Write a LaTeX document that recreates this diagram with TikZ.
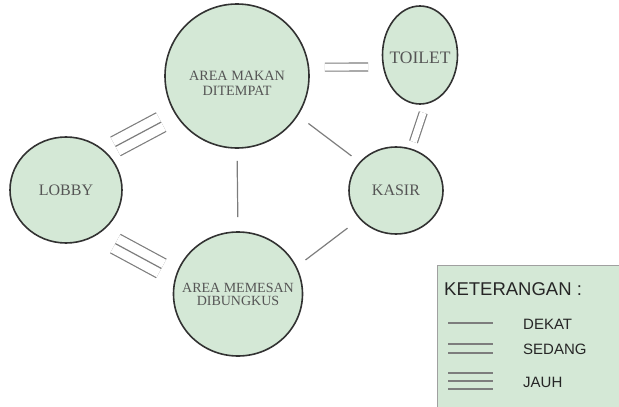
\documentclass[tikz,border=0pt]{standalone}
\usepackage{fontspec}
\setmainfont{Liberation Serif}
\newfontfamily\legendfont{Liberation Sans}
\usetikzlibrary{shapes.geometric}
\definecolor{roomfill}{RGB}{212,232,214}
\definecolor{roomline}{RGB}{50,50,50}
\definecolor{roomtextcol}{RGB}{85,85,85}
\definecolor{linkgray}{RGB}{125,125,125}
\definecolor{legendborder}{RGB}{160,160,160}
\tikzset{
    room/.style={ellipse, draw=roomline, line width=1.6pt, fill=roomfill, inner sep=0pt},
    roomtext/.style={font=\fontsize{16}{15}\selectfont, text=roomtextcol, align=center},
    dekat/.style={draw=linkgray, line width=1.2pt},
    sedang/.style={draw=linkgray, line width=1.2pt, double, double distance=6.8pt},
    jauhouter/.style={draw=linkgray, line width=1.2pt, double, double distance=19.8pt},
    legendtext/.style={font=\legendfont\fontsize{15}{17}\selectfont, text=black!85, inner sep=0pt, anchor=west},
}
\NewDocumentCommand{\DrawJauh}{O{} m m}{%
    \draw [jauhouter, #1] (#2) -- (#3);
    \draw [dekat, #1] (#2) -- (#3);
}

\begin{document}
\begin{tikzpicture}[x=1pt, y=-1pt]
    \useasboundingbox (0,0) rectangle (619,407);
    \clip (0,0) rectangle (619,407);

    % ruangan
    \node[room, minimum width=144pt, minimum height=144pt,
        label={[roomtext, font=\fontsize{14.2}{15}\selectfont, yshift=-7pt]center:{AREA MAKAN\\DITEMPAT}}] (makan) at (237,76) {};
    \node[room, minimum width=75pt, minimum height=98pt,
        label={[roomtext, font=\fontsize{17.5}{17}\selectfont, yshift=-3pt]center:TOILET}] (toilet) at (420,55) {};
    \node[room, minimum width=112pt, minimum height=106pt,
        label={[roomtext]center:LOBBY}] (lobby) at (66,190) {};
    \node[room, minimum width=94pt, minimum height=87pt,
        label={[roomtext]center:KASIR}] (kasir) at (396,190.5) {};
    \node[room, minimum width=129pt, minimum height=124pt,
        label={[roomtext, font=\fontsize{14}{13}\selectfont]center:{AREA MEMESAN\\DIBUNGKUS}}] (memesan) at (238,294) {};

    % hubungan
    \DrawJauh[shorten <=11pt, shorten >=16pt]{lobby.44}{makan.212}
    \DrawJauh[shorten <=19.5pt, shorten >=16pt]{lobby.-54}{memesan.164}
    \draw[sedang, shorten <=15.6pt, shorten >=14.6pt] (makan.7) -- (toilet.198);
    \draw[sedang, shorten <=9pt, shorten >=7pt] (toilet.-83) -- (kasir.70);
    \draw[dekat, shorten <=13pt, shorten >=10pt] (makan.-33) -- (kasir.142);
    \draw[dekat, shorten <=12pt, shorten >=14pt] (makan.south) -- (memesan.north);
    \draw[dekat, shorten <=11pt, shorten >=15pt] (memesan.25) -- (kasir.218);

    % keterangan
    \draw[draw=legendborder, line width=0.8pt, fill=roomfill] (437,265) rectangle (630,420);
    \node[legendtext, font=\legendfont\fontsize{18.5}{20}\selectfont] (keterangan) at (444,289) {KETERANGAN :};
    \node[legendtext] (dekatlabel) at (523,324) {DEKAT};
    \node[legendtext] (sedanglabel) at (523,349) {SEDANG};
    \node[legendtext] (jauhlabel) at (523,382) {JAUH};
    \draw[dekat] (448,323) -- (493,323);
    \foreach \y in {344,353}
        \draw[dekat] (448,\y) -- (493,\y);
    \foreach \y in {373,381,389}
        \draw[dekat] (448,\y) -- (493,\y);

\end{tikzpicture}
\end{document}
